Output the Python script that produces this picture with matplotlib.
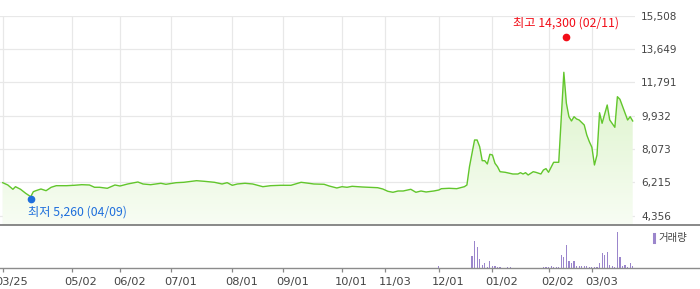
import numpy as np
import matplotlib
matplotlib.use("Agg")
import matplotlib.pyplot as plt
import matplotlib.transforms as mtransforms
from matplotlib.colors import LinearSegmentedColormap
from matplotlib.lines import Line2D

# trading-day index -> close price
price_idx = [0, 2, 4, 5, 7, 9, 11, 12, 13, 15, 17, 19, 21, 25, 28, 31, 34, 36, 38, 41,
             44, 46, 49, 53, 55, 58, 62, 64, 68, 71, 76, 79, 83, 86, 88, 90, 92, 95, 98, 102,
             105, 109, 113, 117, 120, 122, 126, 128, 131, 133, 135, 137, 141, 147, 149, 151, 153, 155, 157, 160,
             162, 164, 166, 169, 171, 172, 175, 178, 181, 182, 183, 184, 185, 186, 187, 188, 189, 190, 191, 192,
             193, 194, 195, 197, 200, 202, 203, 204, 205, 206, 208, 209, 211, 212, 213, 214, 216, 218, 220, 221,
             222, 223, 224, 225, 226, 228, 229, 230, 231, 232, 233, 234, 235, 237, 238, 240, 241, 242, 245, 246,
             247]
price = [6196, 6068, 5828, 5973, 5828, 5605, 5415, 5694, 5750, 5845, 5750, 5940, 6029, 6029, 6051, 6085, 6068, 5940, 5940, 5884,
         6068, 6012, 6124, 6235, 6124, 6085, 6163, 6107, 6196, 6218, 6308, 6274, 6218, 6124, 6196, 6051, 6124, 6163, 6124, 5973,
         6029, 6051, 6051, 6218, 6163, 6124, 6107, 6012, 5901, 5973, 5940, 5995, 5956, 5917, 5845, 5717, 5661, 5733, 5733, 5828,
         5661, 5733, 5678, 5733, 5789, 5862, 5884, 5862, 5973, 6068, 7088, 7835, 8577, 8577, 8203, 7423, 7423, 7239, 7780, 7741,
         7278, 7088, 6809, 6776, 6681, 6681, 6754, 6681, 6754, 6625, 6809, 6776, 6681, 6904, 6980, 6776, 7334, 7334, 12352, 10623,
         9876, 9637, 9876, 9748, 9692, 9413, 8856, 8482, 8170, 7183, 7741, 10099, 9508, 10529, 9692, 9285, 10991, 10846, 9692, 9876,
         9637]

# volume (thousand shares)
vol_idx = [171, 184, 185, 186, 187, 188, 189, 190, 191, 192, 193, 194, 195, 198, 199,
           212, 213, 214, 215, 216, 217, 218, 219, 220, 221, 222, 223, 224, 225, 226, 227,
           228, 229, 230, 231, 232, 233, 234, 235, 236, 237, 238, 239, 240, 241, 242, 243,
           244, 245, 246, 247]
volume = [250, 1230, 2730, 2130, 930, 330, 530, 130, 730, 230, 230, 130, 130, 130, 130,
          130, 130, 130, 230, 130, 130, 130, 1330, 1130, 2330, 730, 530, 730, 230, 230, 230,
          230, 230, 130, 130, 130, 130, 530, 1530, 1330, 1630, 330, 230, 130, 3630, 1130, 230,
          330, 130, 530, 230]

tick_idx = [0, 27, 46, 66, 90, 110, 133, 150, 171, 192, 214, 231]
tick_labels = ["03/25", "05/02", "06/02", "07/01", "08/01", "09/01", "10/01",
               "11/03", "12/01", "01/02", "02/02", "03/03"]
y_ticks = [4356, 6215, 8073, 9932, 11791, 13649, 15508]

low_idx, low_val, low_label = 11, 5260, "최저 5,260 (04/09)"
high_idx, high_val, high_label = 221, 14300, "최고 14,300 (02/11)"

KR = ["Noto Sans CJK KR", "DejaVu Sans"]
W, H = 700, 289
fig = plt.figure(figsize=(W / 100, H / 100), dpi=100)
ax = fig.add_axes([0, (H - 225) / H, 635 / W, (225 - 15.7) / H])
axv = fig.add_axes([0, (H - 268.3) / H, 635 / W, (268.3 - 225) / H])

xlim = (-1.06, 247.9)
ylim = (3837, 15508)

# price line with gradient fill
poly = ax.fill_between(price_idx, price, ylim[0], facecolor="none", edgecolor="none")
cmap = LinearSegmentedColormap.from_list("g", ["#f8fdf4", "#e4f6d6", "#bdea99"])
grad = np.linspace(1, 0, 256).reshape(-1, 1)
im = ax.imshow(grad, extent=[xlim[0], xlim[1], ylim[0], ylim[1]], aspect="auto",
               cmap=cmap, origin="upper", zorder=1)
im.set_clip_path(poly.get_paths()[0], transform=ax.transData)
ax.plot(price_idx, price, color="#62c62c", lw=1.0, zorder=3)

ax.set_xlim(xlim)
ax.set_ylim(ylim)
ax.set_xticks(tick_idx)
ax.set_yticks(y_ticks)
ax.grid(True, color="#e8e8e8", lw=0.9, zorder=0)
ax.set_axisbelow(True)
for s in ax.spines.values():
    s.set_visible(False)
ax.tick_params(axis="x", length=0, labelbottom=False)
ax.yaxis.tick_right()
ax.tick_params(axis="y", length=0, pad=4.3, labelsize=7.5, labelcolor="#444444")
ax.set_yticklabels([f"{v:,}" for v in y_ticks])

# min / max markers
ax.plot(low_idx, low_val, "o", color="#1f6fdc", ms=4.5, zorder=4, clip_on=False)
ax.annotate(low_label, (low_idx, low_val), xytext=(-3, -13), textcoords="offset pixels",
            ha="left", va="center", color="#1f6fdc", fontsize=8.8, family=KR)
ax.plot(high_idx, high_val, "o", color="#f20d18", ms=4.5, zorder=4, clip_on=False)
ax.annotate(high_label, (high_idx, high_val), xytext=(0, 14), textcoords="offset pixels",
            ha="center", va="center", color="#f20d18", fontsize=8.8, family=KR)

# volume panel
axv.bar(vol_idx, volume, width=0.45, color="#9b86cc", zorder=2)
axv.set_xlim(xlim)
axv.set_ylim(0, 4330)
axv.set_yticks([])
for s in axv.spines.values():
    s.set_visible(False)
axv.set_xticks(tick_idx)
axv.set_xticklabels(tick_labels)
axv.tick_params(axis="x", length=3, width=0.9, color="#888888", pad=3.5,
                labelsize=8.2, labelcolor="#444444")
offset = mtransforms.ScaledTranslation(-7 / 100, 0, fig.dpi_scale_trans)
for lab in axv.get_xticklabels():
    lab.set_horizontalalignment("left")
    lab.set_transform(lab.get_transform() + offset)

# full-width separator lines
fig.add_artist(Line2D([0, 1], [(H - 225) / H] * 2, color="#7f7f7f", lw=1.3))
fig.add_artist(Line2D([0, 1], [(H - 268.3) / H] * 2, color="#8c8c8c", lw=1.0))

# volume legend
fig.add_artist(Line2D([653.8 / W] * 2, [(H - 242) / H, (H - 234) / H], color="#9b86cc", lw=2.2))
fig.text(658 / W, (H - 238) / H, "거래량", fontsize=7.5, family=KR, color="#444444",
         ha="left", va="center")

fig.savefig("out.png", dpi=100, facecolor="white")
